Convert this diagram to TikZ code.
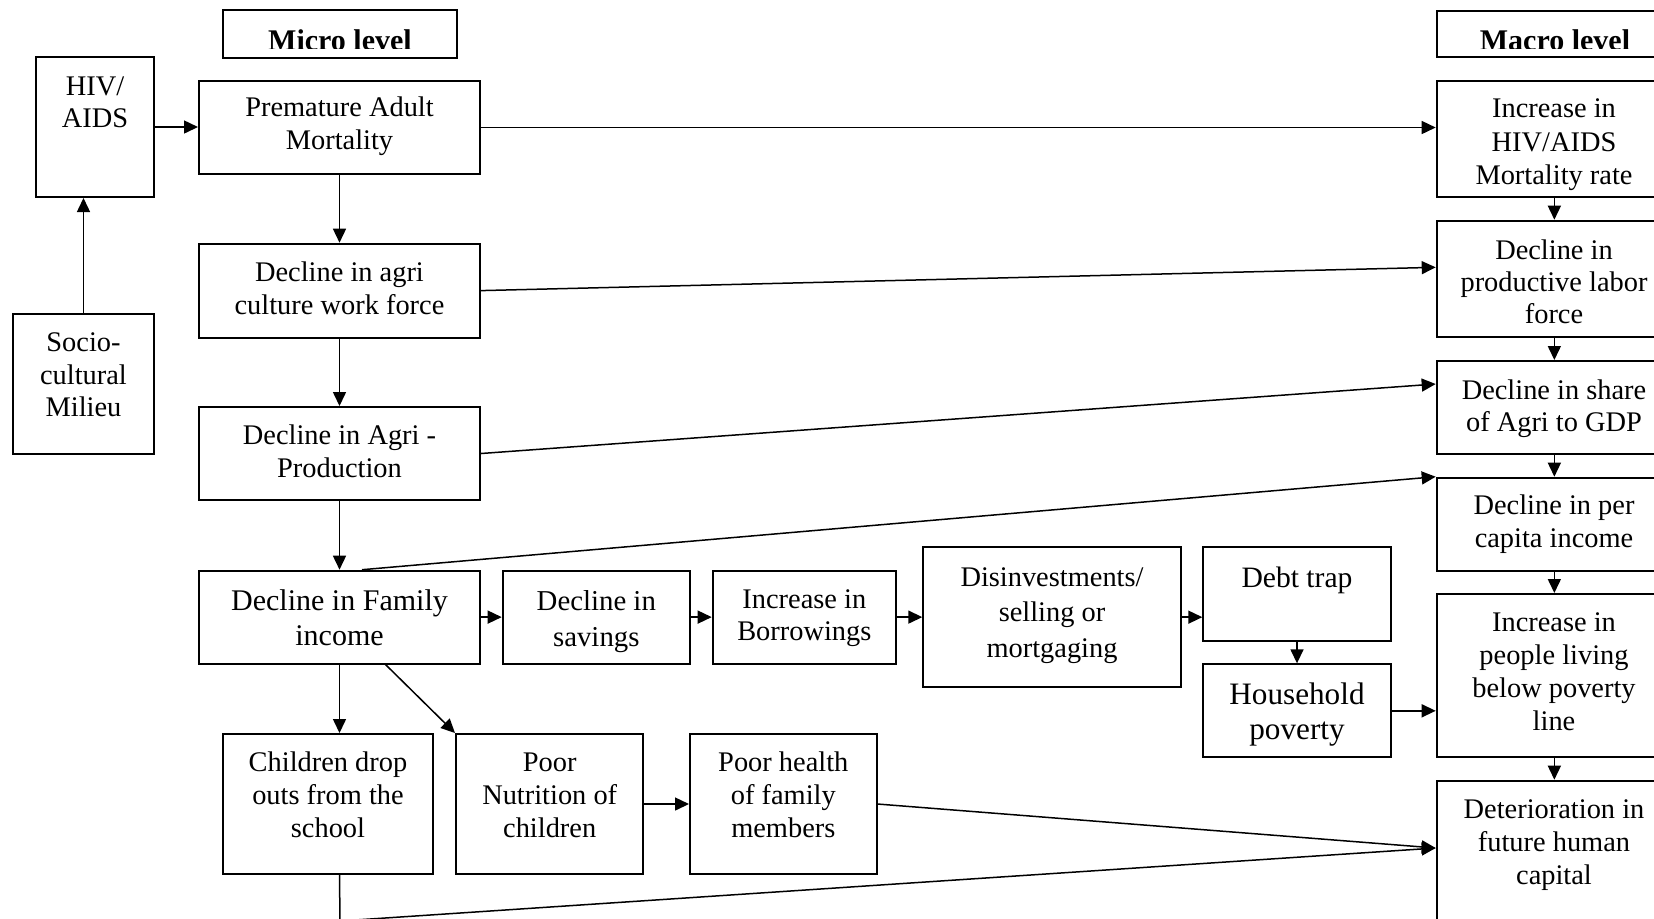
\documentclass[tikz,border=0pt]{standalone}
\usepackage{fontspec}
\setmainfont{Liberation Serif}
\usetikzlibrary{arrows.meta,calc}
\newcommand\mkbox[5]{\node[bxs,minimum width={(#4-#2)*0.5pt},minimum height={(#5-#3)*0.5pt}] (#1) at ({(#2+#4)/2},{(#3+#5)/2}) {};}
\newcommand\mktext[6]{\node[txs,font=\fontsize{#4}{#5}\selectfont] (#1) at (#2,{#3-1.36*#4}) {#6};}
\begin{document}
\begin{tikzpicture}[x=0.5pt,y=-0.5pt,
  bxs/.style={draw,line width=1pt,inner sep=0pt,rectangle},
  txs/.style={anchor=north,align=center,inner sep=0pt},
  arr/.style={-{Triangle[length=7pt,width=6.5pt]},line width=0.75pt}]
\useasboundingbox (0,0) rectangle (1654,918);
\clip (0,0) rectangle (1654,918);
% headers
\mkbox{mic}{222.7}{10}{457.3}{57.7}
\mkbox{mac}{1436.7}{10.7}{1672}{57.3}
\begin{scope}
\clip (0,0) rectangle (1654,48.5);
\node[txs,font=\bfseries\fontsize{15}{18}\selectfont] (mict) at (340,{50-20.3}) {Micro level};
\node[txs,font=\bfseries\fontsize{15}{18}\selectfont] (mact) at (1555,{50-20.3}) {Macro level};
\end{scope}
% left column
\mkbox{hiv}{36}{57}{154}{197}
\mktext{hivt}{95}{95.3}{14.2}{16.4}{HIV/\\AIDS}
\mkbox{soc}{13}{314}{154}{454}
\mktext{soct}{83.5}{351.4}{14.2}{16.4}{Socio-\\cultural\\Milieu}
% micro column
\mkbox{pam}{199}{81}{480}{174}
\mktext{pamt}{339.5}{115.5}{14.2}{16.7}{Premature Adult\\Mortality}
\mkbox{dac}{199}{243.7}{480}{337.5}
\mktext{dact}{339.5}{281}{14.2}{16.5}{Decline in agri\\culture work force}
\mkbox{dap}{199}{407}{480}{500}
\mktext{dapt}{339.5}{443.5}{14.2}{16.5}{Decline in Agri -\\Production}
\mkbox{dfi}{199}{570.7}{480}{663.5}
\mktext{dfit}{339.5}{609.3}{15}{17.9}{Decline in Family\\income}
\mkbox{cds}{222.7}{734}{433.3}{874}
\mktext{cdst}{328}{771}{14.2}{16.5}{Children drop\\outs from the\\school}
\mkbox{pnc}{456}{734}{643.3}{874}
\mktext{pnct}{549.7}{772}{14.2}{16.5}{Poor\\Nutrition of\\children}
\mkbox{phf}{690}{734}{876.5}{874}
\mktext{phft}{783.3}{771}{14.2}{16.5}{Poor health\\of family\\members}
% chain
\mkbox{dsv}{502.7}{570.7}{690}{663.5}
\mktext{dsvt}{596.3}{609.5}{14.4}{17.9}{Decline in\\savings}
\mkbox{ibr}{712.7}{570.7}{896}{663.5}
\mktext{ibrt}{804.3}{609}{14.2}{15.9}{Increase in\\Borrowings}
\mkbox{dis}{923.3}{547.3}{1180.7}{687}
\mktext{dist}{1052}{586.7}{14.2}{17.6}{Disinvestments/\\selling or\\mortgaging}
\mkbox{dbt}{1203.3}{547.3}{1390.7}{640.7}
\mktext{dbtt}{1297}{586.7}{14.8}{17.6}{Debt trap}
\mkbox{hhp}{1203.3}{664.3}{1390.7}{757.3}
\mktext{hhpt}{1297}{704}{15.6}{17.2}{Household\\poverty}
% macro column
\mkbox{m1}{1436.7}{81}{1672}{197}
\mktext{m1t}{1554}{118}{14.2}{16.6}{Increase in\\HIV/AIDS\\Mortality rate}
\mkbox{m2}{1436.7}{220.7}{1672}{337.3}
\mktext{m2t}{1554}{258.3}{14.2}{16.2}{Decline in\\productive labor\\force}
\mkbox{m3}{1436.7}{361}{1672}{454.3}
\mktext{m3t}{1554}{398.3}{14.2}{16}{Decline in share\\of Agri to GDP}
\mkbox{m4}{1436.7}{477.7}{1672}{570.6}
\mktext{m4t}{1554}{514}{14.2}{16.5}{Decline in per\\capita income}
\mkbox{m5}{1436.7}{594}{1672}{756.7}
\mktext{m5t}{1554}{631.7}{14.2}{16.4}{Increase in\\people living\\below poverty\\line}
\mkbox{m6}{1436.7}{780.7}{1672}{940}
\mktext{m6t}{1554}{818.3}{14.2}{16.6}{Deterioration in\\future human\\capital}
% connectors
\draw[arr] (soc.north) -- (soc.north |- hiv.south);
\draw[arr] (hiv.east) -- (hiv.east -| pam.west);
\draw[arr] (pam.east) -- (pam.east -| m1.west);
\draw[arr] (dac.east) -- ($(m2.north west)+(0,47.6)$);
\draw[arr] (dap.east) -- ($(m3.north west)+(0,24)$);
\draw[arr] ($(dfi.north west)+(164,0)$) -- (m4.north west);
\draw[arr] (pam.south) -- (dac.north);
\draw[arr] (dac.south) -- (dap.north);
\draw[arr] (dap.south) -- (dfi.north);
\draw[arr] (dfi.east) -- (dsv.west);
\draw[arr] (dsv.east) -- (ibr.west);
\draw[arr] (ibr.east) -- (ibr.east -| dis.west);
\draw[arr] (dis.east) -- (dis.east -| dbt.west);
\draw[arr] (dbt.south) -- (hhp.north);
\draw[arr] (hhp.east) -- (hhp.east -| m5.west);
\draw[arr] (dfi.south) -- (dfi.south |- cds.north);
\draw[arr] ($(dfi.south west)+(187.5,0)$) -- (pnc.north west);
\draw[arr] (pnc.east) -- (pnc.east -| phf.west);
\draw[arr] (phf.east) -- ($(m6.north west)+(0,68.3)$);
\coordinate (low) at (340,921);
\draw[arr] (cds.south -| dfi.south) -- (low) -- ($(m6.north west)+(0,68.3)$);
\draw[arr] (m1.south) -- (m2.north);
\draw[arr] (m2.south) -- (m3.north);
\draw[arr] (m3.south) -- (m4.north);
\draw[arr] (m4.south) -- (m5.north);
\draw[arr] (m5.south) -- (m6.north);
\end{tikzpicture}
\end{document}
